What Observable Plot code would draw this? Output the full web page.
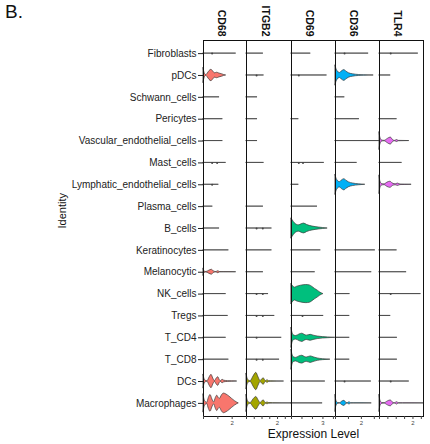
<!DOCTYPE html>
<html><head><meta charset="utf-8">
<script src="https://cdn.jsdelivr.net/npm/d3@7"></script>
<script src="https://cdn.jsdelivr.net/npm/@observablehq/plot@0.6"></script>
<style>
body{margin:0;background:#fff;font-family:"Liberation Sans",Arial,sans-serif;}
#wrap{position:relative;width:430px;height:444px;overflow:hidden;background:#fff;}
#wrap svg{position:absolute;top:0;background:transparent !important;overflow:visible !important;}
#title{position:absolute;left:5px;top:1px;font-size:19px;color:#111;}
</style></head><body>
<div id="wrap"><div id="title">B.</div></div>
<script>
const cells = ["Fibroblasts","pDCs","Schwann_cells","Pericytes","Vascular_endothelial_cells","Mast_cells","Lymphatic_endothelial_cells","Plasma_cells","B_cells","Keratinocytes","Melanocytic","NK_cells","Tregs","T_CD4","T_CD8","DCs","Macrophages"];
const genes = ["CD68","ITGB2","CD69","CD36","TLR4"];

// maximum expression per cell type (violin extent), in cells order
const maxCD68  = [2.28,1.58,1.12,1.35,1.35,1.58,1.07,0.65,1.12,1.77,2.28,1.58,1.72,1.58,1.77,2.35,2.46];
const maxITGB2 = [1.09,1.13,0.71,0.71,0.71,1.13,0,1.09,1.64,1.64,1.09,1.42,1.82,2.27,2.13,2.42,2.9];
const maxCD69  = [1.84,3.39,0,0.7,0,3.13,0.7,2.48,3.45,2.8,2.26,3.05,3.07,4.15,3.71,3.23,2.97];
const maxCD36  = [2.56,2.95,0.72,1.85,3.4,1.67,2.3,0,0,3.08,2.8,1.12,1.1,1.1,1.1,2.77,2.8];
const maxTLR4  = [2.32,0.67,0,1.05,1.78,1.35,1.92,0,0,1.05,1.62,2.48,0.67,1.07,1.07,1.78,2.63];

// violin profiles [expression, relative half-width]
const violinsCD68 = [
  ["pDCs", [[0,0.75],[0.04,0.45],[0.12,0.12],[0.2,0.04],[0.3,0.2],[0.42,0.45],[0.55,0.58],[0.68,0.4],[0.8,0.22],[0.95,0.28],[1.1,0.2],[1.3,0.12],[1.45,0.04],[1.58,0]]],
  ["Melanocytic", [[0,0.35],[0.05,0.1],[0.2,0.02],[0.4,0.15],[0.58,0.25],[0.75,0.06],[0.9,0.02],[1.03,0.1],[1.15,0.02],[1.4,0.01],[2.28,0]]],
  ["DCs", [[0,0.68],[0.05,0.35],[0.15,0.08],[0.28,0.03],[0.42,0.4],[0.56,0.68],[0.68,0.3],[0.79,0.04],[0.92,0.3],[1.03,0.44],[1.13,0.15],[1.22,0.04],[1.33,0.18],[1.45,0.08],[1.7,0.04],[2.0,0.02],[2.35,0]]],
  ["Macrophages", [[0,0.9],[0.05,0.5],[0.15,0.15],[0.26,0.06],[0.37,0.55],[0.49,0.85],[0.62,0.4],[0.74,0.1],[0.86,0.55],[0.96,0.78],[1.06,0.55],[1.14,0.45],[1.28,0.8],[1.42,1.0],[1.6,0.9],[1.8,0.7],[2.0,0.45],[2.2,0.22],[2.35,0.08],[2.46,0]]]
];
const violinsITGB2 = [
  ["DCs", [[0,0.78],[0.05,0.4],[0.15,0.1],[0.27,0.04],[0.45,0.5],[0.63,0.88],[0.78,0.4],[0.9,0.05],[1.0,0.18],[1.1,0.34],[1.2,0.12],[1.27,0.03],[1.35,0.14],[1.45,0.04],[1.6,0.02],[2.42,0]]],
  ["Macrophages", [[0,0.85],[0.05,0.45],[0.15,0.1],[0.27,0.04],[0.45,0.4],[0.63,0.65],[0.78,0.3],[0.9,0.04],[1.0,0.16],[1.1,0.32],[1.2,0.1],[1.28,0.03],[1.35,0.1],[1.45,0.03],[1.7,0.02],[2.9,0]]]
];
const violinsCD69 = [
  ["B_cells", [[0,1.0],[0.12,0.82],[0.3,0.55],[0.5,0.38],[0.7,0.32],[0.95,0.42],[1.2,0.5],[1.5,0.35],[2.0,0.2],[2.6,0.1],[3.0,0.05],[3.45,0]]],
  ["NK_cells", [[0,1.0],[0.15,0.8],[0.32,0.65],[0.55,0.75],[0.9,0.85],[1.4,0.92],[1.75,0.88],[2.0,0.72],[2.25,0.52],[2.5,0.35],[2.75,0.15],[2.95,0.04],[3.05,0]]],
  ["T_CD4", [[0,1.0],[0.08,0.55],[0.22,0.25],[0.45,0.18],[0.75,0.33],[1.04,0.42],[1.25,0.3],[1.45,0.22],[1.84,0.3],[2.1,0.22],[2.5,0.13],[3.0,0.07],[3.5,0.04],[4.15,0]]],
  ["T_CD8", [[0,1.0],[0.08,0.55],[0.22,0.25],[0.45,0.18],[0.75,0.33],[1.04,0.4],[1.25,0.28],[1.45,0.22],[1.84,0.33],[2.1,0.24],[2.5,0.12],[3.0,0.05],[3.71,0]]]
];
const violinsCD36 = [
  ["pDCs", [[0,1.0],[0.06,0.7],[0.18,0.4],[0.33,0.25],[0.5,0.42],[0.68,0.55],[0.85,0.38],[1.05,0.22],[1.35,0.12],[1.8,0.05],[2.2,0.02],[2.95,0]]],
  ["Lymphatic_endothelial_cells", [[0,1.0],[0.06,0.7],[0.18,0.4],[0.33,0.27],[0.5,0.44],[0.68,0.57],[0.85,0.4],[1.05,0.24],[1.35,0.13],[1.8,0.05],[2.3,0]]],
  ["Macrophages", [[0,0.85],[0.05,0.35],[0.18,0.05],[0.35,0.02],[0.52,0.18],[0.69,0.26],[0.84,0.05],[0.95,0.02],[1.08,0.12],[1.2,0.02],[1.4,0.01],[2.8,0]]]
];
const violinsTLR4 = [
  ["Vascular_endothelial_cells", [[0,0.88],[0.05,0.35],[0.15,0.06],[0.3,0.02],[0.5,0.22],[0.67,0.36],[0.82,0.08],[0.93,0.02],[1.05,0.1],[1.15,0.02],[1.78,0]]],
  ["Lymphatic_endothelial_cells", [[0,0.92],[0.05,0.35],[0.15,0.08],[0.3,0.04],[0.48,0.22],[0.65,0.31],[0.82,0.1],[0.97,0.05],[1.1,0.12],[1.25,0.03],[1.5,0.02],[1.92,0]]],
  ["Macrophages", [[0,0.85],[0.05,0.3],[0.15,0.05],[0.3,0.02],[0.5,0.2],[0.67,0.3],[0.82,0.06],[0.93,0.02],[1.05,0.12],[1.15,0.02],[1.4,0.01],[2.63,0]]]
];

// small bumps on the thin violins [cell, expression]
const dotsCD68  = [["Fibroblasts",0.6],["Mast_cells",0.6],["Mast_cells",0.95],["Lymphatic_endothelial_cells",0.6]];
const dotsITGB2 = [["pDCs",0.65],["B_cells",0.65],["B_cells",1.05],["NK_cells",0.65],["NK_cells",1.05],["Tregs",0.65],["Tregs",1.05],["T_CD4",0.65],["T_CD8",0.65],["T_CD8",1.05]];
const dotsCD69  = [["pDCs",0.7],["Mast_cells",0.7],["Mast_cells",1.1],["Tregs",1.05]];
const dotsCD36  = [["DCs",0.7],["Fibroblasts",0.7]];
const dotsTLR4  = [["Fibroblasts",0.67],["DCs",0.67],["NK_cells",0.67]];

// axis settings
const domains   = [3.0, 2.9, 4.2, 3.4, 2.63];
const tickSets  = [[0,1,2,3],[0,0.5,1,1.5,2,2.5],[0,1,2,3,4],[0,1,2,3],[0,0.5,1,1.5,2,2.5]];
const tickLabel = [2, 2, 3, 2, 2];

const colors = ["#F8766D","#A3A500","#00BF7D","#00B0F6","#E76BF3"];
const maxes = [maxCD68, maxITGB2, maxCD69, maxCD36, maxTLR4];
const violins = [violinsCD68, violinsITGB2, violinsCD69, violinsCD36, violinsTLR4];
const dots = [dotsCD68, dotsITGB2, dotsCD69, dotsCD36, dotsTLR4];

const layout = [
  {left: 0, width: 248, ml: 203},
  {left: 244, width: 49, ml: 2},
  {left: 289, width: 48, ml: 2},
  {left: 333, width: 48, ml: 2},
  {left: 377, width: 48, ml: 2}
];

const wrap = document.getElementById("wrap");
genes.forEach((g, k) => {
  const vmap = new Map(violins[k]);
  const data = [];
  cells.forEach((c, i) => {
    let prof = vmap.get(c);
    if (!prof) {
      if (maxes[k][i] <= 0) return;
      prof = [[0, 0], [maxes[k][i], 0]];
    }
    prof.forEach(([x, w]) => data.push({cell: c, i, x, w}));
  });
  const L = layout[k];
  const marks = [
    Plot.areaY(data, {
      x: "x",
      y1: d => d.i - d.w * 0.45,
      y2: d => d.i + d.w * 0.45,
      z: "cell",
      fill: colors[k],
      stroke: "#3a3a3a",
      strokeWidth: 0.7,
      curve: "monotone-x"
    }),
    Plot.dot(dots[k], {x: d => d[1], y: d => cells.indexOf(d[0]), r: 1, fill: "#444"}),
    Plot.frame({stroke: "#111", strokeWidth: 1}),
    Plot.axisX({
      ticks: tickSets[k],
      tickFormat: d => (d === tickLabel[k] ? String(d) : ""),
      tickSize: 3, tickPadding: 1, fontSize: 6, label: null, color: "#444"
    }),
    Plot.text([g], {frameAnchor: "top", dy: -4, rotate: 90, textAnchor: "end", fontWeight: "bold", fontSize: 10.5, fill: "#111"})
  ];
  if (k === 0) {
    marks.push(Plot.axisY({
      ticks: d3.range(cells.length),
      tickFormat: i => cells[i],
      tickSize: 5, tickPadding: 2, fontSize: 10, label: null, color: "#222"
    }));
    marks.push(Plot.text(["Identity"], {frameAnchor: "left", dx: -141, rotate: -90, fontSize: 11, fill: "#111"}));
  }
  if (k === 2) {
    marks.push(Plot.text(["Expression Level"], {frameAnchor: "bottom", dy: 21, fontSize: 12, fill: "#111"}));
  }
  const chart = Plot.plot({
    width: L.width,
    height: 444,
    marginLeft: L.ml,
    marginRight: 2,
    marginTop: 40,
    marginBottom: 28,
    x: {domain: [0, domains[k]]},
    y: {domain: [-0.6, 16.6], reverse: true, axis: k === 0 ? undefined : null},
    style: {fontFamily: "Liberation Sans, Arial, sans-serif", background: "transparent", overflow: "visible"},
    marks
  });
  chart.style.left = L.left + "px";
  wrap.appendChild(chart);
});
</script>
</body></html>
